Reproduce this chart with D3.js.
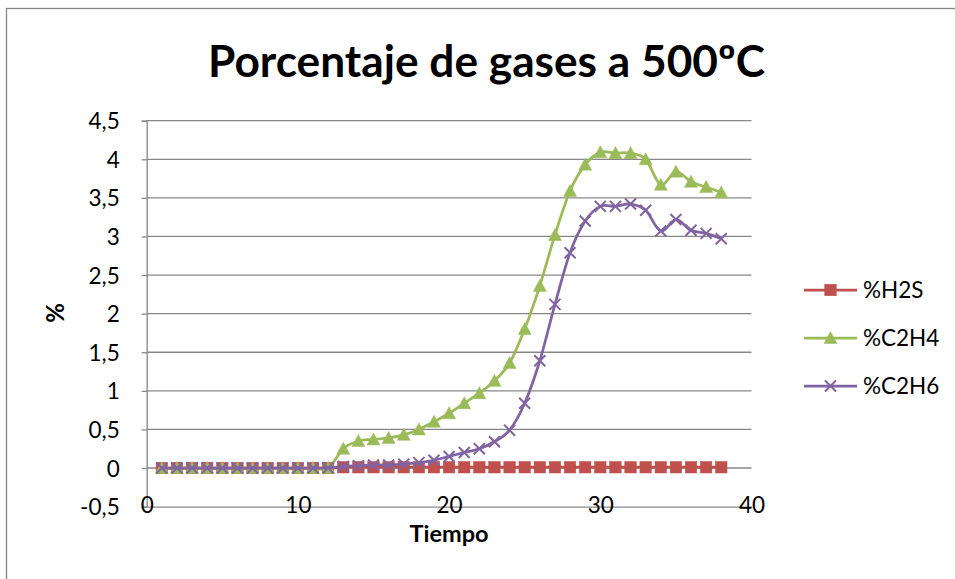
<!DOCTYPE html>
<html>
<head>
<meta charset="utf-8">
<script src="https://cdn.jsdelivr.net/npm/d3@7"></script>
<style>
  html, body { margin: 0; padding: 0; background: #fff; }
  svg { display: block; }
  text { font-family: Lato, "Open Sans", sans-serif; fill: #000; }
</style>
</head>
<body>
<svg id="chart" width="955" height="579"></svg>
<script>
const title = "Porcentaje de gases a 500ºC";
const xTitle = "Tiempo";
const yTitle = "%";
const tiempo = d3.range(1, 39);
const seriesNames = ["%H2S", "%C2H4", "%C2H6"];
const h2s = [0,0,0,0,0,0,0,0,0,0,0,0,
  0.01,0.01,0.01,0.01,0.01,0.01,0.01,0.01,0.01,0.01,0.01,0.01,0.01,0.01,
  0.01,0.01,0.01,0.01,0.01,0.01,0.01,0.01,0.01,0.01,0.01,0.01];
const c2h4 = [0,0,0,0,0,0,0,0,0,0,0,0,
  0.25,0.35,0.37,0.39,0.43,0.50,0.60,0.71,0.84,0.97,1.13,1.36,1.80,2.36,
  3.02,3.59,3.93,4.09,4.08,4.08,4.00,3.67,3.84,3.71,3.64,3.57];
const c2h6 = [0,0,0,0,0,0,0,0,0,0,0,0,
  0.02,0.03,0.04,0.04,0.05,0.07,0.10,0.15,0.20,0.25,0.34,0.49,0.84,1.39,
  2.12,2.79,3.20,3.39,3.39,3.42,3.34,3.07,3.22,3.08,3.04,2.97];
const xTicks = [0, 10, 20, 30, 40];
const yTicks = [-0.5, 0, 0.5, 1, 1.5, 2, 2.5, 3, 3.5, 4, 4.5];
const colors = ["#C0504D", "#9BBB59", "#8064A2"];
const markers = ["square", "triangle", "x"];

const svg = d3.select("#chart");
const fmt = v => String(v).replace(".", ",");

// chart border
svg.append("rect").attr("x", 6.5).attr("y", 8.5).attr("width", 1000).attr("height", 1000)
  .attr("fill", "none").attr("stroke", "#868686").attr("stroke-width", 1.3);

const x = d3.scaleLinear().domain([0, 40]).range([146.7, 751.5]);
const y = d3.scaleLinear().domain([-0.5, 4.5]).range([506.6, 120.7]);

// gridlines
svg.append("g").selectAll("line").data(yTicks.filter(v => v > -0.5)).join("line")
  .attr("x1", x(0)).attr("x2", x(40))
  .attr("y1", d => y(d)).attr("y2", d => y(d))
  .attr("stroke", "#878787").attr("stroke-width", 1.3);

// y axis
const yAxis = d3.axisLeft(y).tickValues(yTicks).tickFormat(fmt).tickSize(5).tickPadding(22);
const gy = svg.append("g").attr("transform", `translate(${x(0)},0)`).call(yAxis);
gy.select(".domain").attr("stroke", "#878787").attr("stroke-width", 1.3);
gy.selectAll(".tick line").attr("stroke", "#878787").attr("stroke-width", 1.3);
gy.selectAll(".tick text").attr("font-size", 22.5).attr("font-family", "Lato").attr("fill", "#000")
  .attr("dy", "0.36em");

// x axis (line at bottom, labels overlapping as in reference)
const xAxis = d3.axisBottom(x).tickValues(xTicks).tickFormat(d3.format("d")).tickSize(0).tickPadding(0);
const gx = svg.append("g").attr("transform", `translate(0,${y(-0.5)})`).call(xAxis);
gx.select(".domain").attr("stroke", "#878787").attr("stroke-width", 1.3);
gx.selectAll(".tick text").attr("font-size", 22.5).attr("font-family", "Lato").attr("fill", "#000")
  .attr("y", 0).attr("dy", "0.3em");

// lines
const series = [h2s, c2h4, c2h6];
const line = d3.line().x((d, i) => x(tiempo[i])).y(d => y(d)).curve(d3.curveCardinal.tension(0));

function drawMarker(g, type, color, cx, cy) {
  if (type === "square") {
    g.append("rect").attr("x", cx - 5.75).attr("y", cy - 5.75).attr("width", 11.5).attr("height", 11.5)
      .attr("fill", color).attr("stroke", color).attr("stroke-width", 0.5);
  } else if (type === "triangle") {
    const s = 6.5;
    g.append("path").attr("d", `M${cx},${cy - s} L${cx + s},${cy + s * 0.85} L${cx - s},${cy + s * 0.85} Z`)
      .attr("fill", color).attr("stroke", color).attr("stroke-width", 0.5);
  } else {
    const s = 5.5;
    g.append("path").attr("d", `M${cx - s},${cy - s} L${cx + s},${cy + s} M${cx - s},${cy + s} L${cx + s},${cy - s}`)
      .attr("stroke", color).attr("stroke-width", 2).attr("fill", "none");
  }
}

series.forEach((vals, si) => {
  const g = svg.append("g");
  g.append("path").attr("d", line(vals)).attr("fill", "none")
    .attr("stroke", colors[si]).attr("stroke-width", 2.75).attr("stroke-linejoin", "round");
  vals.forEach((v, i) => drawMarker(g, markers[si], colors[si], x(tiempo[i]), y(v)));
});

// legend
const legY = [290, 338, 386];
seriesNames.forEach((name, i) => {
  const g = svg.append("g");
  g.append("line").attr("x1", 804).attr("x2", 857).attr("y1", legY[i]).attr("y2", legY[i])
    .attr("stroke", colors[i]).attr("stroke-width", 2.75);
  drawMarker(g, markers[i], colors[i], 830.5, legY[i]);
  g.append("text").attr("x", 863).attr("y", legY[i]).attr("dy", "0.36em")
    .attr("font-size", 22.5).text(name);
});

// titles
const t = svg.append("text").attr("x", 486.5).attr("y", 77).attr("text-anchor", "middle")
  .attr("font-weight", "bold").attr("font-size", 42).text(title);
const w = t.node().getComputedTextLength();
t.attr("font-size", 42 * 557 / w);

svg.append("text").attr("x", 449).attr("y", 542).attr("text-anchor", "middle")
  .attr("font-weight", "bold").attr("font-size", 23.5).text(xTitle);
svg.append("text").attr("transform", "translate(64,313) rotate(-90)").attr("text-anchor", "middle")
  .attr("font-weight", "bold").attr("font-size", 24).text(yTitle);
</script>
</body>
</html>
